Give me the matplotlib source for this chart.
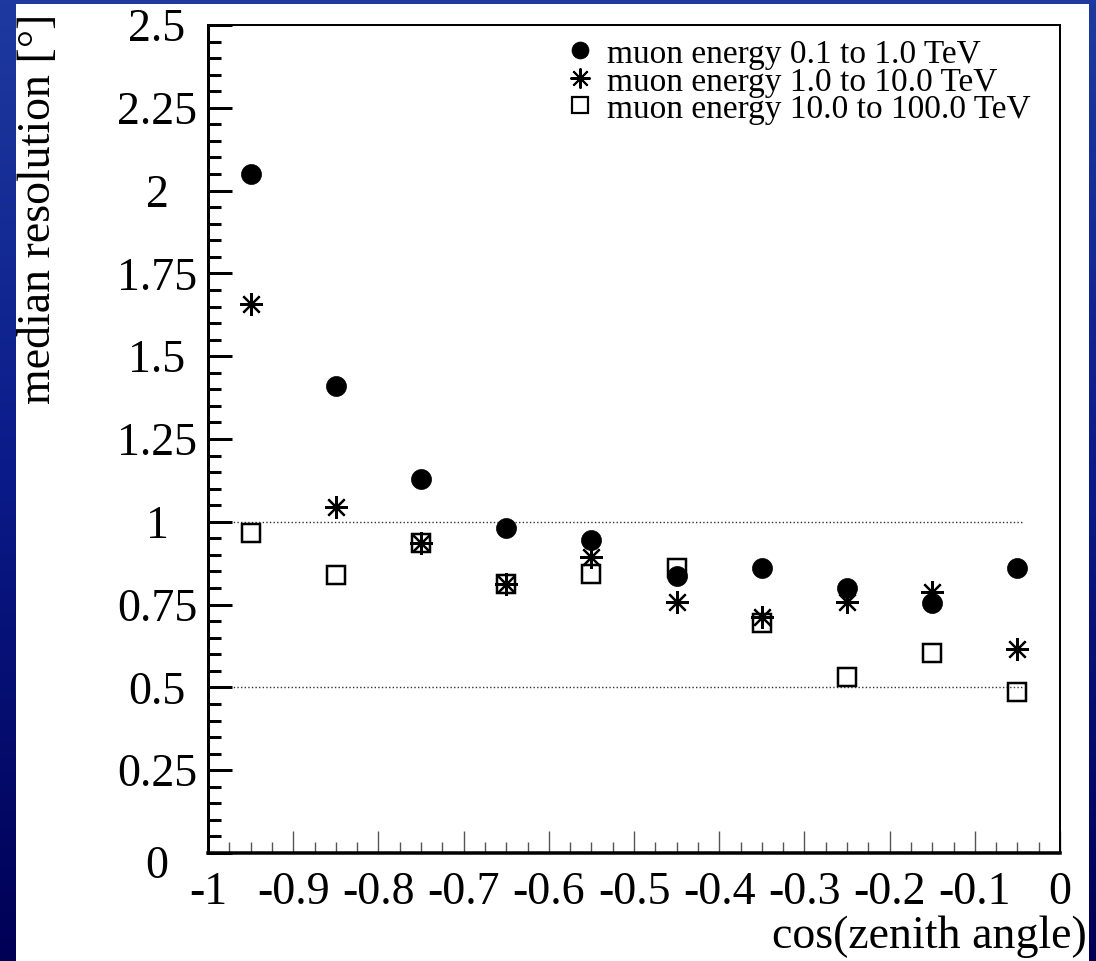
import numpy as np
import matplotlib
matplotlib.use("Agg")
import matplotlib.pyplot as plt
import matplotlib.transforms as mtransforms
from matplotlib.patches import Rectangle
from matplotlib.colors import LinearSegmentedColormap
from matplotlib.ticker import MultipleLocator

# ---------------- data ----------------
cos_zenith = [-0.95, -0.85, -0.75, -0.65, -0.55, -0.45, -0.35, -0.25, -0.15, -0.05]
res_low = [2.05, 1.41, 1.13, 0.98, 0.945, 0.835, 0.86, 0.80, 0.755, 0.86]        # 0.1-1 TeV
res_mid = [1.657, 1.046, 0.935, 0.812, 0.893, 0.759, 0.714, 0.757, 0.789, 0.615]  # 1-10 TeV
res_high = [0.965, 0.839, 0.935, 0.812, 0.842, 0.860, 0.695, 0.532, 0.603, 0.487]  # 10-100 TeV
series_labels = ["muon energy 0.1 to 1.0 TeV",
                 "muon energy 1.0 to 10.0 TeV",
                 "muon energy 10.0 to 100.0 TeV"]
ref_levels = [1.0, 0.5]
ref_xrange = [-1.0, -0.043]
xticks = [-1.0, -0.9, -0.8, -0.7, -0.6, -0.5, -0.4, -0.3, -0.2, -0.1, 0.0]
xtick_labels = ["-1", "-0.9", "-0.8", "-0.7", "-0.6", "-0.5", "-0.4", "-0.3", "-0.2", "-0.1", "0"]
yticks = [0, 0.25, 0.5, 0.75, 1.0, 1.25, 1.5, 1.75, 2.0, 2.25, 2.5]
ytick_labels = ["0", "0.25", "0.5", "0.75", "1", "1.25", "1.5", "1.75", "2", "2.25", "2.5"]
xlabel = "cos(zenith angle)"
ylabel = "median resolution [°]"

# ---------------- figure ----------------
W, H = 1096, 961
DPI = 100
PT = 72.0 / DPI  # points per pixel
SERIF = ["Liberation Serif", "DejaVu Serif"]

fig = plt.figure(figsize=(W / DPI, H / DPI), dpi=DPI)

# background: blue slide gradient + white canvas
bg = fig.add_axes([0, 0, 1, 1])
bg.set_axis_off()
cmap = LinearSegmentedColormap.from_list("slide", ["#1e3aa0", "#0a1a88", "#000055"])
grad = np.linspace(0, 1, 256).reshape(-1, 1)
bg.imshow(grad, cmap=cmap, aspect="auto", extent=[0, 1, 0, 1], origin="upper")
bg.add_patch(Rectangle((16 / W, 0), (1089 - 16) / W, (H - 4) / H,
                       transform=bg.transAxes, facecolor="white", edgecolor="none"))
bg.set_xlim(0, 1)
bg.set_ylim(0, 1)

# main axes
x0, x1 = 208, 1060
y_top, y_bot = 25, 853
ax = fig.add_axes([x0 / W, (H - y_bot) / H, (x1 - x0) / W, (y_bot - y_top) / H])
ax.set_facecolor("none")
ax.set_xlim(-1, 0)
ax.set_ylim(0, 2.5)

for lvl in ref_levels:
    ax.plot(ref_xrange, [lvl, lvl], color="#333333", lw=1.0, ls=(0, (1, 1.6)), zorder=1)

ax.plot(cos_zenith, res_high, ls="none", marker="s", ms=18.5 * PT,
        mfc="none", mec="black", mew=2.5 * PT, zorder=3)
ax.plot(cos_zenith, res_mid, ls="none", marker=(8, 2, 0), ms=23 * PT,
        mec="black", mew=2.2 * PT, zorder=4)
ax.plot(cos_zenith, res_low, ls="none", marker="o", ms=20 * PT,
        mfc="black", mec="black", mew=0.5, zorder=5)

# spines
ax.spines["left"].set_linewidth(3.0 * PT)
ax.spines["bottom"].set_linewidth(3.5 * PT)
ax.spines["top"].set_linewidth(2.0 * PT)
ax.spines["right"].set_linewidth(2.0 * PT)

# ticks
ax.set_xticks(xticks)
ax.set_xticklabels(xtick_labels)
ax.xaxis.set_minor_locator(MultipleLocator(0.025))
ax.set_yticks(yticks)
ax.set_yticklabels(ytick_labels)
ax.yaxis.set_minor_locator(MultipleLocator(0.05))

ax.tick_params(axis="y", which="major", direction="in", length=24 * PT, width=3.0 * PT,
               color="black", pad=51 * PT, labelsize=33)
ax.tick_params(axis="y", which="minor", direction="in", length=13 * PT, width=3.0 * PT,
               color="black")
ax.tick_params(axis="x", which="major", direction="in", length=22 * PT, width=1.4 * PT,
               color="#555555", pad=19 * PT, labelsize=33)
ax.tick_params(axis="x", which="minor", direction="in", length=11 * PT, width=1.4 * PT,
               color="#555555")
for lab in ax.get_yticklabels():
    lab.set_horizontalalignment("center")
    lab.set_fontfamily(SERIF)
    if lab.get_text() == "0":
        # ROOT pushes the zero label slightly down
        lab.set_transform(lab.get_transform() +
                          mtransforms.ScaledTranslation(0, -9 / DPI, fig.dpi_scale_trans))
for lab in ax.get_xticklabels():
    lab.set_fontfamily(SERIF)

# axis titles
fig.text(1087 / W, (H - 948) / H, xlabel, ha="right", va="baseline",
         fontsize=33, family=SERIF)
fig.text(39 / W, (H - 14) / H, ylabel, ha="center", va="top", rotation=90,
         fontsize=33, family=SERIF)

# legend (drawn manually, ROOT style, no frame)
leg_marker_x = 580
leg_text_x = 607
leg_baselines = [63, 90.5, 118]
leg_styles = [dict(marker="o", ms=17 * PT, mfc="black", mec="black", mew=0.5),
              dict(marker=(8, 2, 0), ms=20 * PT, mec="black", mew=2.0 * PT),
              dict(marker="s", ms=16 * PT, mfc="none", mec="black", mew=2.2 * PT)]
for lbl, yb, st in zip(series_labels, leg_baselines, leg_styles):
    fig.text(leg_text_x / W, (H - yb) / H, lbl, ha="left", va="baseline",
             fontsize=24, family=SERIF)
    fig.lines.append(plt.Line2D([leg_marker_x / W], [(H - yb + 13) / H], ls="none",
                                transform=fig.transFigure, figure=fig, **st))

fig.savefig("out.png", dpi=DPI)
